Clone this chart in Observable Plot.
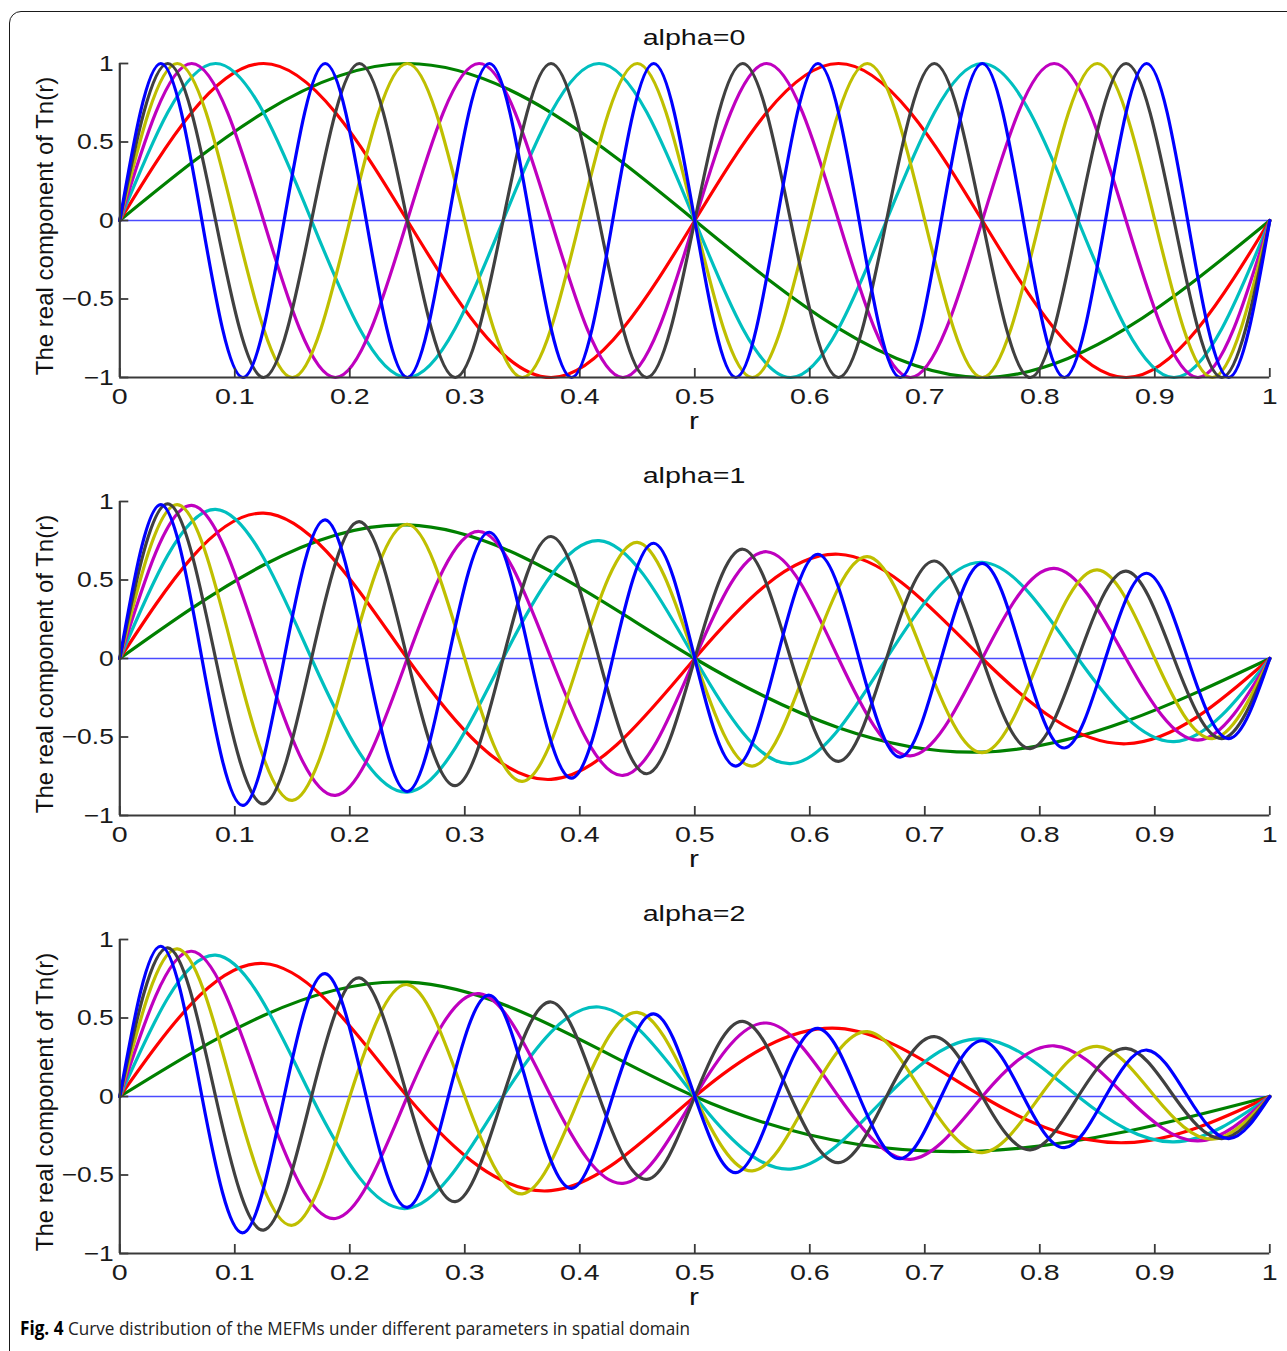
<!DOCTYPE html>
<html>
<head>
<meta charset="utf-8">
<script src="https://cdn.jsdelivr.net/npm/d3@7"></script>
<script src="https://cdn.jsdelivr.net/npm/@observablehq/plot@0.6"></script>
<style>
  html, body { margin: 0; padding: 0; background: #fff; }
  #fig { position: relative; width: 1287px; height: 1351px; overflow: hidden; background: #fff;
         font-family: "Liberation Sans", Arial, sans-serif; color: #111; }
  #frame { position: absolute; left: 9px; top: 11px; width: 1400px; height: 1400px;
           border: 1.6px solid #1a1a1a; border-top-left-radius: 12px; box-sizing: border-box; }
  .panel { position: absolute; left: 0; }
  .lab { position: absolute; white-space: nowrap; line-height: 1; color: #111;
         transform: translate(-50%, -50%) scaleX(1.3); }
  .ylab { position: absolute; white-space: nowrap; line-height: 1; color: #111;
          transform: translate(-50%, -50%) rotate(-90deg); }
  #cap { position: absolute; left: 20px; top: 1328px; white-space: nowrap; line-height: 1;
         font-family: "Open Sans", "Noto Sans", sans-serif; font-size: 19px; color: #222;
         transform-origin: 0 50%; }
  #cap b { color: #000; }
</style>
</head>
<body>
<div id="fig">
  <div id="frame"></div>
</div>
<script>
// ---------------- data (zeros and extrema of each curve) ----------------
const panelTitles = ["alpha=0", "alpha=1", "alpha=2"];
const xTicks = [0, 0.1, 0.2, 0.3, 0.4, 0.5, 0.6, 0.7, 0.8, 0.9, 1];
const xTickLabels = ["0", "0.1", "0.2", "0.3", "0.4", "0.5", "0.6", "0.7", "0.8", "0.9", "1"];
const yTicks = [-1, -0.5, 0, 0.5, 1];
const yTickLabels = ["\u22121", "\u22120.5", "0", "0.5", "1"];
const seriesColors = ["#008000", "#ff0000", "#00bfbf", "#bf00bf", "#bfbf00", "#404040", "#0000ff"];

// knot positions r for each curve
const rGreen = [0, .25, .5, .75, 1];
const rRed = [0, .125, .25, .375, .5, .625, .75, .875, 1];
const rCyan = [0, .0833, .1667, .25, .3333, .4167, .5, .5833, .6667, .75, .8333, .9167, 1];
const rMagenta = [0, .0625, .125, .1875, .25, .3125, .375, .4375, .5, .5625, .625, .6875, .75, .8125, .875, .9375, 1];
const rYellow = [0, .05, .1, .15, .2, .25, .3, .35, .4, .45, .5, .55, .6, .65, .7, .75, .8, .85, .9, .95, 1];
const rGray = [0, .0417, .0833, .125, .1667, .2083, .25, .2917, .3333, .375, .4167, .4583, .5, .5417, .5833, .625, .6667, .7083, .75, .7917, .8333, .875, .9167, .9583, 1];
const rBlue = [0, .0357, .0714, .1071, .1429, .1786, .2143, .25, .2857, .3214, .3571, .3929, .4286, .4643, .5, .5357, .5714, .6071, .6429, .6786, .7143, .75, .7857, .8214, .8571, .8929, .9286, .9643, 1];

// alpha = 0
const green0 = [0, 1, 0, -1, 0];
const red0 = [0, 1, 0, -1, 0, 1, 0, -1, 0];
const cyan0 = [0, 1, 0, -1, 0, 1, 0, -1, 0, 1, 0, -1, 0];
const magenta0 = [0, 1, 0, -1, 0, 1, 0, -1, 0, 1, 0, -1, 0, 1, 0, -1, 0];
const yellow0 = [0, 1, 0, -1, 0, 1, 0, -1, 0, 1, 0, -1, 0, 1, 0, -1, 0, 1, 0, -1, 0];
const gray0 = [0, 1, 0, -1, 0, 1, 0, -1, 0, 1, 0, -1, 0, 1, 0, -1, 0, 1, 0, -1, 0, 1, 0, -1, 0];
const blue0 = [0, 1, 0, -1, 0, 1, 0, -1, 0, 1, 0, -1, 0, 1, 0, -1, 0, 1, 0, -1, 0, 1, 0, -1, 0, 1, 0, -1, 0];

// alpha = 1
const green1 = [0, .851, 0, -.596, 0];
const red1 = [0, .926, 0, -.77, 0, .664, 0, -.543, 0];
const cyan1 = [0, .95, 0, -.851, 0, .751, 0, -.67, 0, .613, 0, -.53, 0];
const magenta1 = [0, .975, 0, -.872, 0, .809, 0, -.745, 0, .68, 0, -.62, 0, .574, 0, -.52, 0];
const yellow1 = [0, .98, 0, -.904, 0, .855, 0, -.783, 0, .74, 0, -.685, 0, .649, 0, -.60, 0, .564, 0, -.51, 0];
const gray1 = [0, .985, 0, -.926, 0, .872, 0, -.81, 0, .777, 0, -.734, 0, .696, 0, -.655, 0, .621, 0, -.574, 0, .557, 0, -.51, 0];
const blue1 = [0, .98, 0, -.936, 0, .883, 0, -.847, 0, .804, 0, -.762, 0, .734, 0, -.685, 0, .664, 0, -.628, 0, .606, 0, -.57, 0, .543, 0, -.51, 0];

// alpha = 2
const green2 = [0, .728, 0, -.347, 0];
const red2 = [0, .847, 0, -.60, 0, .434, 0, -.294, 0];
const cyan2 = [0, .90, 0, -.713, 0, .57, 0, -.462, 0, .366, 0, -.289, 0];
const magenta2 = [0, .925, 0, -.777, 0, .655, 0, -.553, 0, .468, 0, -.40, 0, .323, 0, -.283, 0];
const yellow2 = [0, .94, 0, -.82, 0, .713, 0, -.62, 0, .536, 0, -.474, 0, .413, 0, -.357, 0, .319, 0, -.272, 0];
const gray2 = [0, .947, 0, -.851, 0, .755, 0, -.67, 0, .602, 0, -.528, 0, .479, 0, -.421, 0, .381, 0, -.34, 0, .306, 0, -.268, 0];
const blue2 = [0, .957, 0, -.868, 0, .783, 0, -.706, 0, .645, 0, -.585, 0, .526, 0, -.485, 0, .434, 0, -.396, 0, .355, 0, -.326, 0, .296, 0, -.268, 0];

// ---------------- layout ----------------
const W = 1287, ML = 119.3, MR = 17.7, PH = 314, MT = 20, MB = 45;
const panelTops = [62.5, 500.5, 938.5];
const axisColor = "#3a3a3a";
const knots = [rGreen, rRed, rCyan, rMagenta, rYellow, rGray, rBlue];
const panelValues = [
  [green0, red0, cyan0, magenta0, yellow0, gray0, blue0],
  [green1, red1, cyan1, magenta1, yellow1, gray1, blue1],
  [green2, red2, cyan2, magenta2, yellow2, gray2, blue2]
];
const xLab = new Map(xTicks.map((t, i) => [t, xTickLabels[i]]));
const yLab = new Map(yTicks.map((t, i) => [t, yTickLabels[i]]));

const fig = document.getElementById("fig");

function addLabel(cls, text, x, y, size) {
  const d = document.createElement("div");
  d.className = cls;
  d.textContent = text;
  d.style.left = x + "px";
  d.style.top = y + "px";
  d.style.fontSize = size + "px";
  fig.appendChild(d);
}

panelValues.forEach((vals, p) => {
  const lineMarks = vals.map((v, s) =>
    Plot.line(knots[s].map((r, i) => ({r, v: v[i]})), {
      x: "r", y: "v", stroke: seriesColors[s], strokeWidth: 3.2,
      curve: "natural", strokeLinejoin: "round", strokeLinecap: "round"
    })
  );
  const svg = Plot.plot({
    width: W, height: MT + PH + MB,
    marginLeft: ML, marginRight: MR, marginTop: MT, marginBottom: MB,
    style: {fontFamily: "'Liberation Sans', Arial, sans-serif", background: "transparent", overflow: "visible"},
    x: {domain: [0, 1]},
    y: {domain: [-1, 1]},
    marks: [
      Plot.ruleY([0], {stroke: "#4a4aff", strokeWidth: 1.6}),
      ...lineMarks,
      Plot.ruleX([0], {stroke: axisColor, strokeWidth: 2.2}),
      Plot.ruleY([-1], {stroke: axisColor, strokeWidth: 2.2}),
      Plot.tickX(xTicks, {x: d => d, stroke: axisColor, strokeWidth: 1.8, insetTop: PH - 9}),
      Plot.tickY(yTicks, {y: d => d, stroke: axisColor, strokeWidth: 1.8, insetRight: W - ML - MR - 9}),
      Plot.axisX({ticks: xTicks, tickSize: 0, tickPadding: 11, fontSize: 22, label: null,
                  fill: "#1a1a1a", tickFormat: d => xLab.get(d)}),
      Plot.axisY({ticks: yTicks, tickSize: 0, tickPadding: 6, fontSize: 22, label: null,
                  fill: "#1a1a1a", tickFormat: d => yLab.get(d)})
    ]
  });
  // the reference figure is stretched horizontally; stretch tick labels the same way
  svg.querySelectorAll('g[aria-label="x-axis tick label"] text').forEach(t => {
    const tr = t.getAttribute("transform");
    if (tr) t.setAttribute("transform", tr + " scale(1.3,1)");
  });
  svg.querySelectorAll('g[aria-label="y-axis tick label"] text').forEach(t => {
    const tr = t.getAttribute("transform");
    if (tr) t.setAttribute("transform", tr + " scale(1.2,1)");
  });
  svg.classList.add("panel");
  svg.style.top = (panelTops[p] - MT) + "px";
  fig.appendChild(svg);

  const cx = ML + (W - ML - MR) / 2;
  addLabel("lab", panelTitles[p], cx, panelTops[p] - 25, 22);
  addLabel("lab", "r", cx, panelTops[p] + PH + 44, 23);
  addLabel("ylab", "The real component of Tn(r)", 45, panelTops[p] + PH / 2 + 6, 24);
});

const cap = document.createElement("div");
cap.id = "cap";
cap.innerHTML = "<b>Fig. 4</b> Curve distribution of the MEFMs under different parameters in spatial domain";
fig.appendChild(cap);
const cw = cap.getBoundingClientRect().width;
cap.style.transform = `translateY(-50%) scaleX(${670 / cw})`;
</script>
</body>
</html>
